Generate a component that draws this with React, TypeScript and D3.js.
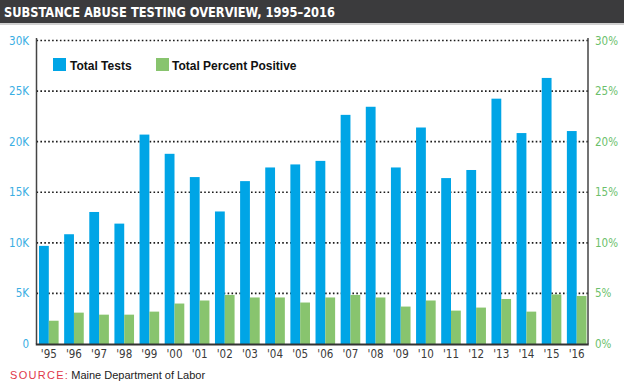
import React from "react";
import * as d3 from "d3";

const years = ["'95","'96","'97","'98","'99","'00","'01","'02","'03","'04","'05","'06","'07","'08","'09","'10","'11","'12","'13","'14","'15","'16"];
const totalTests = [9700,10850,13050,11900,20700,18800,16500,13100,16100,17450,17750,18100,22650,23450,17450,21400,16400,17200,24250,20850,26300,21050];
const percentPositive = [2.3,3.1,2.9,2.9,3.2,4.0,4.3,4.85,4.6,4.6,4.1,4.6,4.85,4.6,3.7,4.3,3.3,3.6,4.45,3.2,4.9,4.75];
const leftTicks = [0,5000,10000,15000,20000,25000,30000];
const rightTicks = [0,5,10,15,20,25,30];

const W = 624, H = 390;
const X0 = 36.5, X1 = 588, Y0 = 344, Y1 = 40.5;
const BLUE = "#00a5e6", GREEN = "#88c46e";

export default function App() {
  const x = d3.scaleBand<string>().domain(years).range([X0, X1 + 1]).paddingInner(0.22).paddingOuter(0.1);
  const yL = d3.scaleLinear().domain([0, 30000]).range([Y0, Y1]);
  const yR = d3.scaleLinear().domain([0, 30]).range([Y0, Y1]);
  const bw = x.bandwidth() / 2;
  const fmtK = (v: number) => (v === 0 ? "0" : `${v / 1000}K`);
  const tickFont = "'Liberation Sans Narrow', 'DejaVu Sans Condensed', sans-serif";
  return (
    <svg width={W} height={H} style={{ position: "absolute", left: 0, top: 0, background: "#fff" }}>
      <rect x={0} y={0} width={W} height={23} fill="#3b3b3d" />
      <rect x={0} y={23} width={W} height={2} fill="#d0d0d0" />
      <text x={4} y={17} fill="#fff" fontFamily="'DejaVu Sans Condensed', sans-serif" fontWeight="bold" fontSize={14} textLength={331} lengthAdjust="spacingAndGlyphs">
        SUBSTANCE ABUSE TESTING OVERVIEW, 1995–2016
      </text>

      {leftTicks.filter(t => t > 0).map(t => (
        <line key={"g" + t} x1={X0} x2={X1} y1={yL(t)} y2={yL(t)} stroke="#1a1a1a" strokeWidth={1.6} strokeDasharray="1.6,2.3" />
      ))}

      {years.map((yr, i) => (
        <g key={yr}>
          <rect x={x(yr)!} y={yL(totalTests[i])} width={bw} height={Y0 - yL(totalTests[i])} fill={BLUE} />
          <rect x={x(yr)! + bw} y={yR(percentPositive[i])} width={bw} height={Y0 - yR(percentPositive[i])} fill={GREEN} />
          <text x={x(yr)! + x.bandwidth() / 2} y={358} textAnchor="middle" fontFamily={tickFont} fontSize={11.5} fill="#3a3a3a">{yr}</text>
        </g>
      ))}

      <line x1={X0} x2={X0} y1={38} y2={Y0} stroke="#444" strokeWidth={1.5} />
      <line x1={X1} x2={X1} y1={38} y2={Y0} stroke="#444" strokeWidth={1.5} />
      <line x1={X0 - 0.75} x2={X1 + 0.75} y1={Y0 + 0.5} y2={Y0 + 0.5} stroke="#333" strokeWidth={2} />

      {leftTicks.map(t => (
        <text key={"l" + t} x={29} y={yL(t)} dy="0.35em" textAnchor="end" fontFamily={tickFont} fontSize={11.5} fill="#3aaee3">{fmtK(t)}</text>
      ))}
      {rightTicks.map(t => (
        <text key={"r" + t} x={595} y={yR(t)} dy="0.35em" textAnchor="start" fontFamily={tickFont} fontSize={11.5} fill="#6cbf6c">{`${t}%`}</text>
      ))}

      <rect x={53} y={58} width={13} height={13} fill={BLUE} />
      <text x={70} y={69.5} fontFamily="'Liberation Sans', Arial, sans-serif" fontWeight="bold" fontSize={12} fill="#111">Total Tests</text>
      <rect x={156} y={58} width={13} height={13} fill={GREEN} />
      <text x={172} y={69.5} fontFamily="'Liberation Sans', Arial, sans-serif" fontWeight="bold" fontSize={12} fill="#111">Total Percent Positive</text>

      <text x={10} y={379} fontFamily="'Liberation Sans', Arial, sans-serif" fontSize={11} fill="#222">
        <tspan fill="#e0384a" letterSpacing={1.3}>SOURCE:</tspan>
        <tspan dx={2}>Maine Department of Labor</tspan>
      </text>
    </svg>
  );
}
